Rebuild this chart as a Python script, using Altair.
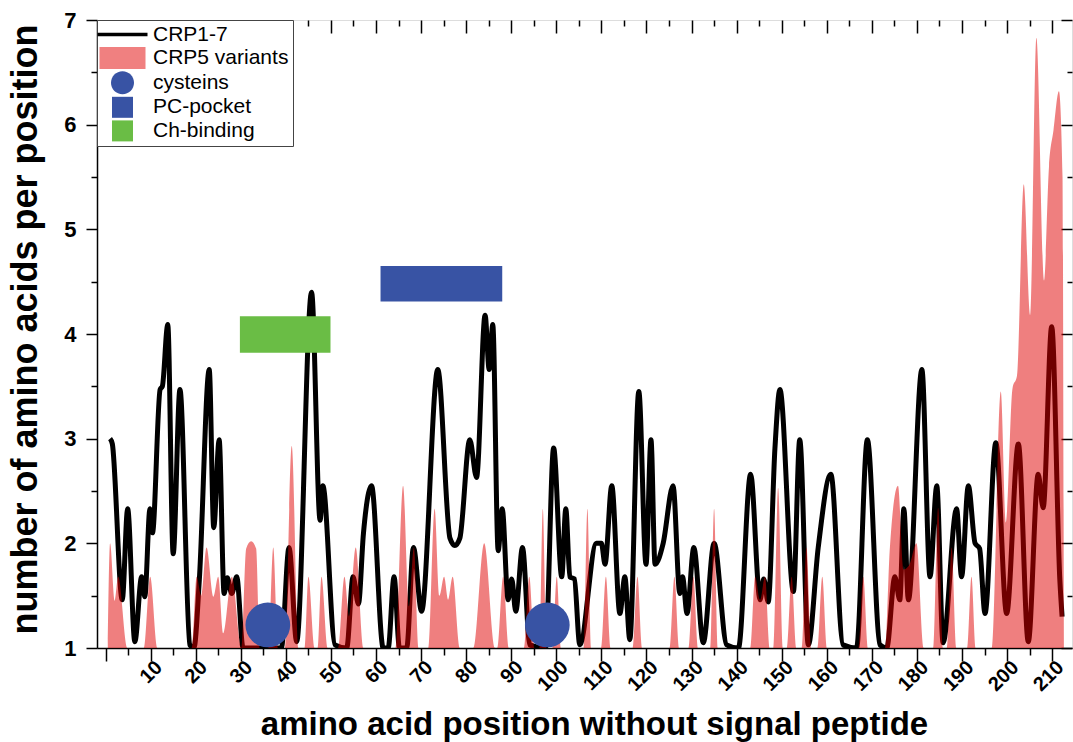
import altair as alt
import pandas as pd

# ---- CRP1-7 black line (key points) ----
crp17_x = [1, 1.5, 3.7, 4.9, 6.5, 8.0, 8.7, 9.85, 10.4, 12.1, 12.6, 13.8, 15.0, 16.5, 18.7, 19.6,
           20.8, 23.0, 24.0, 25.2, 26.3, 27.0, 28.0, 29.1, 30.5, 39.0, 40.7, 42.4, 45.7, 47.6,
           48.2, 50.9, 53.5, 54.9, 56.1, 57.2, 59.0, 61.6, 62.7, 64.0, 65.2, 66.8, 68.3, 70.1,
           73.7, 76.4, 77.5, 78.6, 80.8, 82.3, 84.2, 85.1, 85.9, 87.1, 88.0, 89.3, 90.1, 91.0, 92.5,
           94.1, 97.6, 99.4, 101.2, 102.1, 103.0, 104.0, 105.2, 108.9, 110.0, 110.8, 112.3, 114.1,
           115.2, 116.3, 118.3, 119.9, 121.0, 121.9, 123.7, 125.9, 127.4, 128.0, 129.0, 130.5,
           132.6, 135.0, 137.8, 140.4, 143.1, 145.2, 146.0, 147.0, 148.5, 149.6, 152.6, 154.0,
           155.9, 158.1, 160.9, 163.6, 166.6, 169.0, 171.8, 173.3, 175.1, 176.2, 177.1, 178.1,
           181.1, 182.9, 184.4, 185.8, 188.8, 189.9, 191.4, 192.9, 193.9, 195.1, 197.5, 199.9,
           202.5, 204.7, 206.9, 208.0, 209.9, 211.7, 212.2]
crp17_y = [3.0, 2.95, 1.46, 2.33, 1.06, 1.68, 1.49, 2.33, 2.1, 3.47, 3.5, 4.09, 1.9, 3.47, 1.03, 1.0,
           1.65, 3.66, 2.15, 2.99, 1.52, 1.67, 1.52, 1.68, 1.0, 1.0, 1.96, 1.06, 4.40, 2.22,
           2.55, 1.03, 1.0, 1.68, 1.42, 2.09, 2.55, 1.0, 1.0, 1.68, 1.0, 1.0, 1.96, 1.35,
           3.66, 2.05, 1.98, 2.05, 2.99, 2.63, 4.18, 3.66, 4.09, 1.93, 2.33, 1.46, 1.66, 1.35, 1.96,
           1.03, 1.0, 2.91, 1.68, 2.33, 1.68, 1.66, 1.03, 2.0, 2.0, 1.8, 2.55, 1.33,
           1.68, 1.08, 3.45, 1.8, 2.99, 1.8, 2.0, 2.55, 1.52, 1.68, 1.33, 1.96,
           1.05, 2.0, 1.03, 1.0, 2.66, 1.46, 1.66, 1.44, 2.91, 3.47, 1.54, 2.99,
           1.03, 1.96, 2.66, 1.03, 1.0, 2.99, 1.03, 1.0, 1.68, 1.46, 2.33, 1.46,
           3.66, 1.68, 2.55, 1.05, 2.33, 1.68, 2.55, 2.0, 1.95, 1.33, 2.96, 1.33,
           2.95, 1.06, 2.66, 2.34, 4.07, 1.65, 1.3]

# ---- CRP5 variants red area (key points) ----
crp5_x = [0.5, 1.0, 2.0, 2.8, 4.8, 8.5, 9.9, 11.5, 19.1, 20.2, 21.2, 22.4, 23.9, 25.0, 26.1, 28.0,
          30.2, 31.2, 32.3, 33.4, 34.2, 36.1, 37.2, 38.3, 39.8, 41.3, 42.8, 44.2, 45.0, 46.4, 47.1,
          47.9, 49.3, 51.6, 53.0, 54.0, 55.5, 57.2, 64.3, 66.0, 67.3, 68.4, 69.5, 71.6, 73.0,
          74.1, 75.1, 76.0, 77.0, 78.6, 81.6, 84.0, 86.4, 86.9, 88.2, 89.5, 92.8, 94.0, 95.2,
          96.3, 97.0, 97.8, 99.2, 100.1, 101.0, 106.1, 106.9, 107.7, 110.0, 111.0, 112.0, 117.0,
          118.0, 119.0, 125.2, 126.2, 127.2, 129.4, 130.4, 131.4, 134.2, 135.0, 135.8, 143.0,
          144.1, 145.2, 146.3, 147.3, 148.2, 149.2, 150.3, 151.2, 152.2, 153.2, 154.5, 155.5,
          156.5, 158.0, 159.0, 160.0, 167.1, 168.1, 169.1, 173.0, 174.0, 175.8, 177.0, 178.4,
          179.9, 181.5, 183.6, 184.7, 185.8, 186.6, 187.7, 188.8, 191.2, 192.1, 193.0, 196.6,
          198.6, 199.7, 201.2, 202.2, 203.7, 205.1, 206.5, 208.2, 209.3, 210.3, 211.5, 212.3, 212.6]
crp5_y = [1.0, 2.0, 1.45, 1.68, 1.0, 1.0, 1.68, 1.0, 1.0, 1.68, 1.5, 1.96, 1.49, 1.68, 1.14, 1.68,
          1.0, 1.95, 2.02, 1.95, 1.0, 1.0, 1.96, 1.0, 1.0, 2.93, 1.0, 1.0, 1.68, 1.0, 1.0,
          1.68, 1.0, 1.0, 1.68, 1.3, 1.96, 1.0, 1.0, 2.55, 1.4, 1.96, 1.0, 1.0, 2.33,
          1.5, 1.68, 1.46, 1.68, 1.0, 1.0, 2.0, 1.0, 1.0, 1.68, 1.0, 1.0, 1.68, 1.0,
          1.0, 2.33, 1.0, 1.0, 1.68, 1.0, 1.0, 2.33, 1.0, 1.0, 1.68, 1.0, 1.0,
          1.68, 1.0, 1.0, 1.68, 1.0, 1.0, 1.68, 1.0, 1.0, 2.33, 1.0, 1.0,
          1.68, 1.46, 1.68, 1.0, 1.0, 2.53, 1.0, 1.0, 1.68, 1.0, 1.0, 1.96,
          1.0, 1.0, 1.68, 1.0, 1.0, 1.68, 1.0, 1.0, 1.96, 2.55, 1.75, 1.8,
          2.0, 1.0, 1.0, 2.34, 1.0, 1.0, 1.96, 1.0, 1.0, 1.68, 1.0, 1.0,
          3.45, 2.2, 3.48, 3.6, 5.43, 4.18, 6.83, 4.51, 5.6, 5.95, 6.32, 5.5, 1.0]

# ---- cysteins (circles) ----
cys_x = [36.0, 98.0]
cys_y = [1.22, 1.22]

# ---- binding regions (rectangles) ----
region_names = ["PC-pocket", "Ch-binding"]
region_x1 = [61.0, 29.8]
region_x2 = [88.0, 49.9]
region_y1 = [4.31, 3.82]
region_y2 = [4.65, 4.17]

# ---- legend ----
legend_names = ["CRP1-7", "CRP5 variants", "cysteins", "PC-pocket", "Ch-binding"]
legend_colors = ["#000000", "#F08080", "#3853A4", "#3853A4", "#6ABD45"]
legend_shapes = [
    "M-1.4,-0.18H3.6V0.18H-1.4Z",
    "M-1.2,-1.1H3.4V1.1H-1.2Z",
    "M2.25,0A1.15,1.15,0,1,1,-0.05,0A1.15,1.15,0,1,1,2.25,0Z",
    "M0.05,-1.05H2.15V1.05H0.05Z",
    "M0.05,-1.05H2.15V1.05H0.05Z",
]

BLUE = "#3853A4"

W, H = 975, 628
XDOM = [-1.9, 214.4]
YDOM = [1, 7]

line_df = pd.DataFrame({"x": crp17_x, "y": crp17_y})
area_df = pd.DataFrame({"x": crp5_x, "y": crp5_y})
cys_df = pd.DataFrame({"x": cys_x, "y": cys_y})
reg_df = pd.DataFrame({"series": region_names, "x1": region_x1, "x2": region_x2,
                       "y1": region_y1, "y2": region_y2})
leg_df = pd.DataFrame({"series": legend_names})

xs = alt.Scale(domain=XDOM, nice=False, zero=False)
ys = alt.Scale(domain=YDOM, nice=False, zero=False)
cs = alt.Scale(domain=legend_names, range=legend_colors)
ss = alt.Scale(domain=legend_names, range=legend_shapes)

FONT = "Liberation Sans"


def make_legend():
    return alt.Legend(
        title=None, orient="none", legendX=0, legendY=0,
        strokeColor="#444", fillColor="white", padding=4,
        rowPadding=1.6, labelOffset=31, labelFontSize=21, labelFont=FONT,
        labelColor="black", symbolSize=400, symbolOpacity=1,
        symbolStrokeWidth=0, labelLimit=300,
    )


x_axis = alt.Axis(
    orient="bottom",
    values=list(range(0, 215, 5)),
    labelExpr="(datum.value % 10 === 0 && datum.value > 0) ? datum.label : ''",
    tickSize={"condition": {"test": "datum.value % 10 === 0", "value": 13}, "value": 7},
    tickWidth=1.5, tickColor="black", domainColor="black", domainWidth=1.5,
    labelAngle=-45, labelAlign="right", labelBaseline="middle", labelOffset=8,
    labelPadding=3, labelFontSize=20, labelFontWeight="bold", labelFont=FONT,
    labelColor="black", grid=False,
    title="amino acid position without signal peptide",
    titleFont=FONT, titleFontSize=33, titleFontWeight="bold", titleColor="black",
    titleX=497, titleY=86, titleBaseline="alphabetic", titleAlign="center",
)
y_axis = alt.Axis(
    orient="left",
    values=[1, 1.5, 2, 2.5, 3, 3.5, 4, 4.5, 5, 5.5, 6, 6.5, 7],
    labelExpr="(datum.value % 1 === 0) ? format(datum.value, 'd') : ''",
    tickSize={"condition": {"test": "datum.value % 1 === 0", "value": 11}, "value": 6},
    tickWidth=1.5, tickColor="black", domainColor="black", domainWidth=1.5,
    labelPadding=10, labelFontSize=22, labelFontWeight="bold", labelFont=FONT,
    labelColor="black", grid=False,
    title="number of amino acids per position",
    titleFont=FONT, titleFontSize=36, titleFontWeight="bold", titleColor="black",
    titleX=-61, titleY=309, titleBaseline="alphabetic", titleAlign="center", titleAngle=-90,
)

base_line = alt.Chart(line_df).mark_line(
    color="black", strokeWidth=5, interpolate="monotone", clip=True
).encode(
    x=alt.X("x:Q", scale=xs, axis=x_axis),
    y=alt.Y("y:Q", scale=ys, axis=y_axis),
)

# inward ticks on top and right edges
top_axis = alt.Axis(
    orient="bottom", offset=-H, values=list(range(0, 215, 5)), labels=False, domain=False,
    tickSize={"condition": {"test": "datum.value % 10 === 0", "value": 13}, "value": 6},
    tickWidth=1.5, tickColor="black", grid=False, title=None,
)
right_axis = alt.Axis(
    orient="left", offset=-W, values=[1, 1.5, 2, 2.5, 3, 3.5, 4, 4.5, 5, 5.5, 6, 6.5, 7],
    labels=False, domain=False,
    tickSize={"condition": {"test": "datum.value % 1 === 0", "value": 11}, "value": 5},
    tickWidth=1.5, tickColor="black", grid=False, title=None,
)
frame_ticks = alt.Chart(line_df).mark_point(opacity=0).encode(
    x=alt.X("x:Q", scale=xs, axis=top_axis),
    y=alt.Y("y:Q", scale=ys, axis=right_axis),
)

area = alt.Chart(area_df).mark_area(
    color="#E00000", opacity=0.5, interpolate="monotone", clip=True
).encode(
    x=alt.X("x:Q", scale=xs, axis=None),
    y=alt.Y("y:Q", scale=ys, axis=None),
    y2=alt.datum(1),
)

rects = alt.Chart(reg_df).mark_rect().encode(
    x=alt.X("x1:Q", scale=xs, axis=None),
    x2="x2:Q",
    y=alt.Y("y1:Q", scale=ys, axis=None),
    y2="y2:Q",
    color=alt.Color("series:N", scale=cs, legend=make_legend()),
)

circles = alt.Chart(cys_df).mark_circle(size=2000, color=BLUE, opacity=1, clip=True).encode(
    x=alt.X("x:Q", scale=xs, axis=None),
    y=alt.Y("y:Q", scale=ys, axis=None),
)

# legend-only layer: its points sit outside the clipped plot area, only the legend shows
legend_layer = alt.Chart(leg_df).mark_point(filled=True, clip=True, opacity=1).encode(
    color=alt.Color("series:N", scale=cs, legend=make_legend()),
    shape=alt.Shape("series:N", scale=ss, legend=make_legend()),
    x=alt.value(-2000),
    y=alt.value(-2000),
)

chart = alt.layer(
    base_line, area, rects, circles, frame_ticks, legend_layer
).resolve_axis(x="independent", y="independent").properties(
    width=W, height=H,
    autosize=alt.AutoSizeParams(type="none"),
    padding={"left": 97, "top": 20, "right": 1, "bottom": 94},
).configure_view(stroke="black", strokeWidth=1.5).configure(background="white")

chart.save("out.html", embed_options={"renderer": "svg", "actions": False})
